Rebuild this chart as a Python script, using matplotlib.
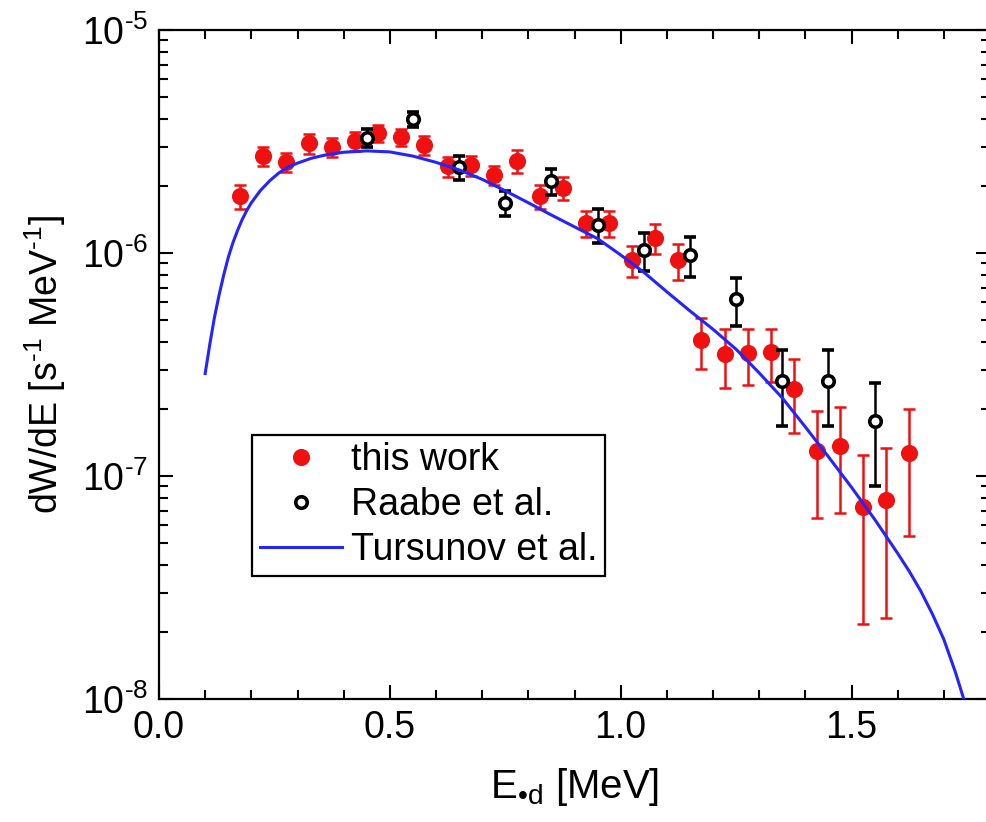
import matplotlib
matplotlib.use('Agg')
import matplotlib.pyplot as plt
from matplotlib.lines import Line2D
from matplotlib.ticker import MultipleLocator, LogLocator, NullFormatter

# this work
x_this = [0.175, 0.225, 0.275, 0.325, 0.375, 0.425, 0.475, 0.525, 0.575, 0.625,
          0.675, 0.725, 0.775, 0.825, 0.875, 0.925, 0.975, 1.025, 1.075, 1.125,
          1.175, 1.225, 1.275, 1.325, 1.375, 1.425, 1.475, 1.525, 1.575, 1.625]
y_this = [1.80e-6, 2.72e-6, 2.56e-6, 3.11e-6, 2.99e-6, 3.18e-6, 3.45e-6, 3.31e-6, 3.05e-6, 2.45e-6,
          2.47e-6, 2.24e-6, 2.59e-6, 1.80e-6, 1.96e-6, 1.36e-6, 1.36e-6, 9.3e-7, 1.17e-6, 9.3e-7,
          4.07e-7, 3.52e-7, 3.55e-7, 3.60e-7, 2.46e-7, 1.30e-7, 1.36e-7, 7.26e-8, 7.81e-8, 1.27e-7]
err_this = [2.2e-7, 2.7e-7, 2.5e-7, 3.2e-7, 3.0e-7, 3.0e-7, 3.0e-7, 3.0e-7, 3.0e-7, 2.5e-7,
            2.5e-7, 2.2e-7, 3.0e-7, 2.2e-7, 2.3e-7, 1.8e-7, 1.8e-7, 1.5e-7, 1.8e-7, 1.7e-7,
            1.05e-7, 1.04e-7, 1.0e-7, 9.6e-8, 9.0e-8, 6.5e-8, 6.8e-8, 5.1e-8, 5.5e-8, 7.3e-8]

# Raabe et al.
x_raabe = [0.45, 0.55, 0.65, 0.75, 0.85, 0.95, 1.05, 1.15, 1.25, 1.35, 1.45, 1.55]
y_raabe = [3.28e-6, 3.99e-6, 2.43e-6, 1.68e-6, 2.10e-6, 1.34e-6, 1.03e-6, 9.8e-7,
           6.22e-7, 2.67e-7, 2.67e-7, 1.76e-7]
err_raabe = [3.0e-7, 3.0e-7, 3.0e-7, 2.2e-7, 2.8e-7, 2.3e-7, 2.0e-7, 2.0e-7,
             1.5e-7, 1.0e-7, 1.0e-7, 8.6e-8]

# Tursunov et al.
x_tur = [0.100, 0.110, 0.120, 0.130, 0.140, 0.150, 0.160, 0.170, 0.180, 0.190,
         0.200, 0.220, 0.240, 0.260, 0.280, 0.300, 0.330, 0.360, 0.400, 0.450,
         0.500, 0.550, 0.600, 0.650, 0.700, 0.750, 0.800, 0.850, 0.900, 0.950,
         1.000, 1.050, 1.100, 1.150, 1.200, 1.250, 1.300, 1.350, 1.400, 1.450,
         1.500, 1.550, 1.600, 1.625, 1.650, 1.675, 1.700, 1.725, 1.750]
y_tur = [2.88e-7, 3.89e-7, 5.13e-7, 6.46e-7, 7.94e-7, 9.55e-7, 1.11e-6, 1.26e-6, 1.41e-6, 1.55e-6,
         1.68e-6, 1.91e-6, 2.11e-6, 2.29e-6, 2.43e-6, 2.53e-6, 2.66e-6, 2.75e-6, 2.83e-6, 2.87e-6,
         2.84e-6, 2.72e-6, 2.55e-6, 2.36e-6, 2.14e-6, 1.90e-6, 1.68e-6, 1.48e-6, 1.31e-6, 1.16e-6,
         9.8e-7, 8.2e-7, 6.7e-7, 5.5e-7, 4.55e-7, 3.7e-7, 2.9e-7, 2.24e-7, 1.66e-7, 1.22e-7,
         8.9e-8, 6.4e-8, 4.5e-8, 3.74e-8, 3.05e-8, 2.41e-8, 1.85e-8, 1.32e-8, 9.0e-9]

xticks = [0.0, 0.5, 1.0, 1.5]
xticklabels = ['0.0', '0.5', '1.0', '1.5']
yticks = [1e-8, 1e-7, 1e-6, 1e-5]
yticklabels = [r'$10^{\text{-8}}$', r'$10^{\text{-7}}$', r'$10^{\text{-6}}$', r'$10^{\text{-5}}$']

red = '#f01010'
blue = '#2424ff'

plt.rcParams['font.family'] = ['Liberation Sans', 'DejaVu Sans']
plt.rcParams['mathtext.fontset'] = 'custom'
plt.rcParams['mathtext.rm'] = 'Liberation Sans'
plt.rcParams['mathtext.it'] = 'Liberation Sans'
plt.rcParams['mathtext.default'] = 'regular'

fig = plt.figure(figsize=(9.86, 8.22), dpi=100)
ax = fig.add_axes([159 / 986, 123 / 822, 831 / 986, 669 / 822])

ax.errorbar(x_this, y_this, yerr=err_this, fmt='o', color=red, ms=11.3,
            elinewidth=1.8, capsize=4, capthick=1.8, zorder=3)
ax.errorbar(x_raabe, y_raabe, yerr=err_raabe, fmt='o', mfc='white', mec='black',
            ms=8.3, mew=2.6, ecolor='black', elinewidth=1.8, capsize=4.3,
            capthick=1.8, zorder=4)
ax.plot(x_tur, y_tur, color=blue, lw=2.2, zorder=5)

ax.set_yscale('log')
ax.set_xlim(0, 1.8)
ax.set_ylim(1e-8, 1e-5)

ax.set_xticks(xticks)
ax.set_xticklabels(xticklabels)
ax.xaxis.set_minor_locator(MultipleLocator(0.1))
ax.set_yticks(yticks)
ax.set_yticklabels(yticklabels)
ax.yaxis.set_minor_locator(LogLocator(base=10, subs=range(2, 10), numticks=20))
ax.yaxis.set_minor_formatter(NullFormatter())

ax.tick_params(which='both', direction='in', top=True, right=True, width=1.5)
ax.tick_params(which='major', length=10, labelsize=27, pad=8)
ax.tick_params(which='minor', length=6.5)
for s in ax.spines.values():
    s.set_linewidth(1.6)

ax.set_xlabel('E$_{\u2022d}$ [MeV]', fontsize=29, labelpad=14)
ax.set_ylabel(r'dW/dE [s$^{\text{-1}}$ MeV$^{\text{-1}}$]', fontsize=27, labelpad=10)

handles = [
    Line2D([], [], ls='none', marker='o', color=red, ms=11.3),
    Line2D([], [], ls='none', marker='o', mfc='white', mec='black', ms=8.3, mew=2.6),
    Line2D([], [], color=blue, lw=2.2),
]
labels = ['this work', 'Raabe et al.', 'Tursunov et al.']
leg = ax.legend(handles, labels, loc='upper left', bbox_to_anchor=(0.112, 0.395),
                borderaxespad=0, fontsize=27, frameon=True, fancybox=False,
                edgecolor='black', framealpha=1, handlelength=2.2,
                handletextpad=0.25, labelspacing=0.24, borderpad=0.2)
leg.get_frame().set_linewidth(1.6)

fig.savefig('out.png', dpi=100)
